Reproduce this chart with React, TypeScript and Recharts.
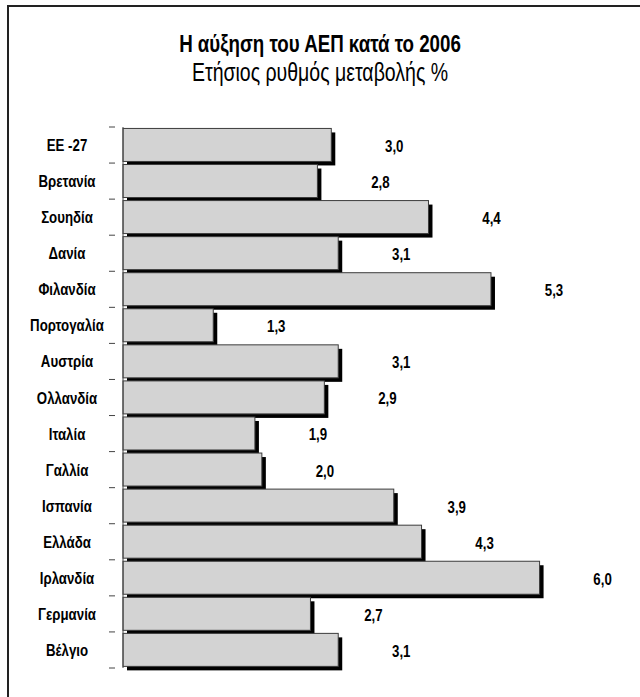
import { Bar, BarChart, LabelList, XAxis, YAxis } from 'recharts';

const countries = [
  'ΕΕ -27', 'Βρετανία', 'Σουηδία', 'Δανία', 'Φιλανδία', 'Πορτογαλία', 'Αυστρία', 'Ολλανδία',
  'Ιταλία', 'Γαλλία', 'Ισπανία', 'Ελλάδα', 'Ιρλανδία', 'Γερμανία', 'Βέλγιο',
];
const growth = [3.0, 2.8, 4.4, 3.1, 5.3, 1.3, 3.1, 2.9, 1.9, 2.0, 3.9, 4.3, 6.0, 2.7, 3.1];

const W = 640;
const H = 697;
const M = { top: 127, right: 31, bottom: 29, left: 0 };
const BAND = (H - M.top - M.bottom) / countries.length;
const FONT = "'Liberation Sans', Arial, sans-serif";
const SQUEEZE = 0.78;

const data = countries.map((name, i) => ({ name, value: growth[i] }));

function ShadowBar(props: any) {
  const { x, y, width, height } = props;
  return (
    <g>
      <rect x={x + 4} y={y + 4} width={width} height={height} fill="#000" />
      <rect x={x} y={y} width={width} height={height} fill="#d3d3d3" stroke="#3c3c3c" strokeWidth={1} />
    </g>
  );
}

// narrow bold text, squeezed horizontally like the original condensed face
function NarrowText({ x, y, size, children }: { x: number; y: number; size: number; children: any }) {
  return (
    <text
      transform={`translate(${x},${y}) scale(${SQUEEZE},1)`}
      textAnchor="middle"
      fontFamily={FONT}
      fontWeight="bold"
      fontSize={size}
      fill="#000"
    >
      {children}
    </text>
  );
}

function CountryTick(props: any) {
  const { x, y, payload, index } = props;
  const last = index === countries.length - 1;
  return (
    <g>
      <line x1={x - 6} x2={x} y1={y - BAND / 2} y2={y - BAND / 2} stroke="#444" />
      {last && <line x1={x - 6} x2={x} y1={y + BAND / 2} y2={y + BAND / 2} stroke="#444" />}
      <NarrowText x={67} y={y + 6} size={17}>{payload.value}</NarrowText>
    </g>
  );
}

function ValueLabel(props: any) {
  const { x, y, width, height, value } = props;
  return (
    <NarrowText x={x + width + 63} y={y + height / 2 + 7} size={17}>
      {Number(value).toFixed(1).replace('.', ',')}
    </NarrowText>
  );
}

export default function App() {
  return (
    <div style={{ position: 'absolute', left: 0, top: 0, width: W, height: H, background: '#fff', overflow: 'hidden' }}>
      <div style={{ position: 'absolute', left: 7, top: 5, width: W, height: H, borderLeft: '2px solid #222', borderTop: '2px solid #222' }} />
      <div style={{ position: 'absolute', left: 0, top: 31, width: W, textAlign: 'center', transform: `scaleX(${SQUEEZE})`, fontFamily: FONT, fontWeight: 'bold', fontSize: 24, color: '#000', lineHeight: '26px' }}>
        Η αύξηση του ΑΕΠ κατά το 2006
      </div>
      <div style={{ position: 'absolute', left: 0, top: 58, width: W, textAlign: 'center', transform: `scaleX(${SQUEEZE})`, fontFamily: FONT, fontSize: 25, color: '#000', lineHeight: '28px' }}>
        Ετήσιος ρυθμός μεταβολής %
      </div>
      <div style={{ position: 'absolute', left: 0, top: 0 }}>
        <BarChart width={W} height={H} data={data} layout="vertical" margin={M} barCategoryGap="4%">
          <XAxis type="number" domain={[0, 7]} hide />
          <YAxis
            type="category"
            dataKey="name"
            width={123}
            axisLine={{ stroke: '#444' }}
            tickLine={false}
            tick={<CountryTick />}
            interval={0}
          />
          <Bar dataKey="value" shape={<ShadowBar />} isAnimationActive={false}>
            <LabelList dataKey="value" content={<ValueLabel />} />
          </Bar>
        </BarChart>
      </div>
    </div>
  );
}
